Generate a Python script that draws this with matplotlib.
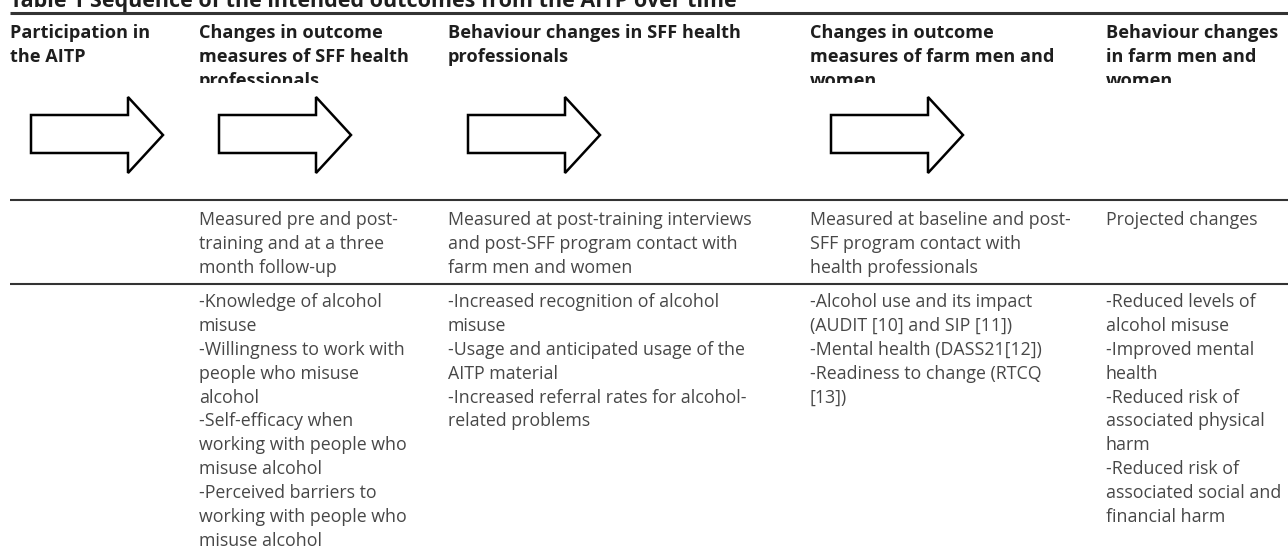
import matplotlib.pyplot as plt
from matplotlib.patches import Polygon, Rectangle

title = "Table 1 Sequence of the intended outcomes from the AITP over time"

headers = [
    ["Participation in", "the AITP"],
    ["Changes in outcome", "measures of SFF health", "professionals"],
    ["Behaviour changes in SFF health", "professionals"],
    ["Changes in outcome", "measures of farm men and", "women"],
    ["Behaviour changes", "in farm men and", "women"],
]

measured = [
    [],
    ["Measured pre and post-", "training and at a three", "month follow-up"],
    ["Measured at post-training interviews", "and post-SFF program contact with",
     "farm men and women"],
    ["Measured at baseline and post-", "SFF program contact with",
     "health professionals"],
    ["Projected changes"],
]

outcomes = [
    [],
    ["-Knowledge of alcohol", "misuse", "-Willingness to work with",
     "people who misuse", "alcohol", "-Self-efficacy when",
     "working with people who", "misuse alcohol", "-Perceived barriers to",
     "working with people who", "misuse alcohol"],
    ["-Increased recognition of alcohol", "misuse",
     "-Usage and anticipated usage of the", "AITP material",
     "-Increased referral rates for alcohol-", "related problems"],
    ["-Alcohol use and its impact", "(AUDIT [10] and SIP [11])",
     "-Mental health (DASS21[12])", "-Readiness to change (RTCQ", "[13])"],
    ["-Reduced levels of", "alcohol misuse", "-Improved mental", "health",
     "-Reduced risk of", "associated physical", "harm", "-Reduced risk of",
     "associated social and", "financial harm"],
]

# layout in pixels (top-left origin)
col_x = [10, 199, 448, 810, 1106]
arrow_x = [31, 219, 468, 831]
line_h = 23.9
head_color = "#1e1e1e"
body_color = "#474747"
rule_color = "#333333"

fig = plt.figure(figsize=(12.88, 5.52), dpi=100)
ax = fig.add_axes([0, 0, 1, 1])
ax.set_xlim(0, 1288)
ax.set_ylim(552, 0)
ax.axis("off")

# title sits mostly above the top edge, as in the source crop
ax.text(10, 7.5, title, fontsize=15.5, fontweight="bold", family="Open Sans",
        color=head_color, va="baseline", ha="left")

# horizontal rules
ax.plot([10, 1288], [13, 13], color=rule_color, lw=2.2, solid_capstyle="butt")
ax.plot([10, 1288], [199.5, 199.5], color=rule_color, lw=1.5, solid_capstyle="butt")
ax.plot([10, 1288], [284, 284], color=rule_color, lw=1.5, solid_capstyle="butt")

# header row, clipped to its cell
clip = Rectangle((0, 0), 1288, 83, transform=ax.transData)
for x, lines in zip(col_x, headers):
    for i, s in enumerate(lines):
        t = ax.text(x, 38 + i * 24, s, fontsize=13.1, fontweight="bold",
                    family="Open Sans", color=head_color, va="baseline")
        t.set_clip_on(True)
        t.set_clip_path(clip)

# block arrows
for x0 in arrow_x:
    pts = [(x0, 115), (x0 + 97, 115), (x0 + 97, 97), (x0 + 132, 135),
           (x0 + 97, 173), (x0 + 97, 153), (x0, 153)]
    ax.add_patch(Polygon(pts, closed=True, facecolor="white",
                         edgecolor="black", lw=1.8, joinstyle="miter"))

for x, lines in zip(col_x, measured):
    for i, s in enumerate(lines):
        ax.text(x, 225 + i * line_h, s, fontsize=12.8, family="Open Sans",
                color=body_color, va="baseline")

for x, lines in zip(col_x, outcomes):
    for i, s in enumerate(lines):
        ax.text(x, 307 + i * line_h, s, fontsize=12.8, family="Open Sans",
                color=body_color, va="baseline")

fig.savefig("out.png", dpi=100)
